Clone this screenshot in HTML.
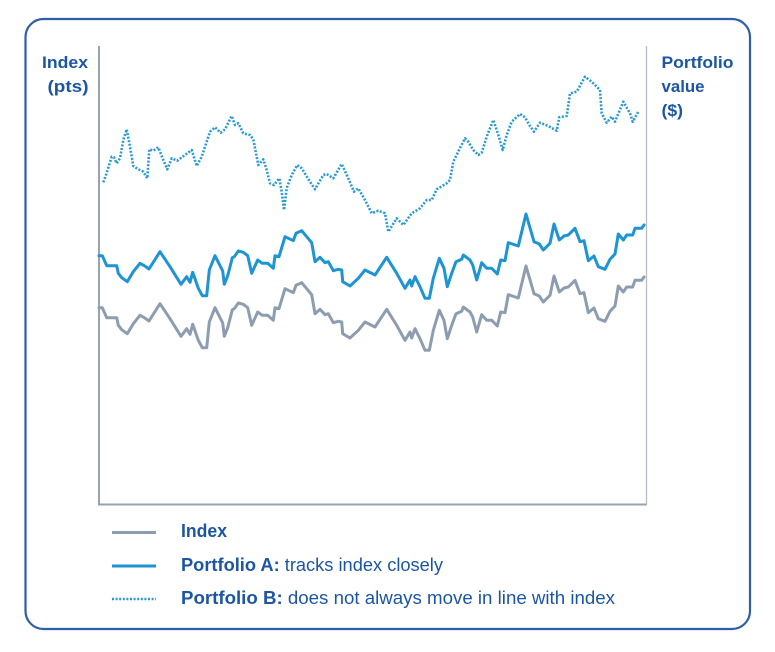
<!DOCTYPE html>
<html>
<head>
<meta charset="utf-8">
<style>
  html, body { margin:0; padding:0; background:#ffffff; }
  svg { display:block; }
  text { font-family: "Liberation Sans", "DejaVu Sans", sans-serif; fill:#1c56a3; }
</style>
</head>
<body>
<svg width="775" height="652" viewBox="0 0 775 652" xmlns="http://www.w3.org/2000/svg">
  <rect x="0" y="0" width="775" height="652" fill="#ffffff"/>
  <!-- frame -->
  <rect x="25.5" y="19" width="724.5" height="610" rx="18" ry="18" fill="none" stroke="#2d5fa6" stroke-width="2.2"/>

  <!-- axes -->
  <line x1="99" y1="46" x2="99" y2="505" stroke="#97a3b3" stroke-width="2"/>
  <line x1="98" y1="504.5" x2="647" y2="504.5" stroke="#97a3b3" stroke-width="2"/>
  <line x1="646.5" y1="46" x2="646.5" y2="505" stroke="#b5bcc6" stroke-width="1.3"/>

  <!-- axis labels -->
  <text x="42" y="68" font-size="17" font-weight="bold" textLength="46" lengthAdjust="spacingAndGlyphs">Index</text>
  <text x="47.5" y="92" font-size="17" font-weight="bold" textLength="41" lengthAdjust="spacingAndGlyphs">(pts)</text>
  <text x="661.5" y="68" font-size="17" font-weight="bold" textLength="72" lengthAdjust="spacingAndGlyphs">Portfolio</text>
  <text x="661.5" y="92" font-size="17" font-weight="bold" textLength="43" lengthAdjust="spacingAndGlyphs">value</text>
  <text x="661.5" y="116" font-size="17" font-weight="bold" textLength="21.5" lengthAdjust="spacingAndGlyphs">($)</text>

  <!-- Index (gray) = Portfolio A shifted +52 -->
  <g transform="translate(0,52)">
    <polyline fill="none" stroke="#8d9db0" stroke-width="3" stroke-linejoin="round" stroke-linecap="round" points="99,255.7 102.3,255.7 106.7,265.7 116.7,265.7 118.3,273.3 121.7,277.7 127.3,281.7 133.3,271.7 140,263.3 144.3,265.7 149,269 160,251.7 170,266.7 181,284.3 186.7,276.7 190,282.3 192.7,272.3 198.3,288.3 202.3,295.7 206.7,295.7 209.3,270 215,255.7 222.7,271 224.3,284.3 227.7,275.7 232.3,257.7 234.3,256.7 238.3,251 243.3,252.3 247.7,255.7 251.7,273.3 257.7,260 262.3,263.3 267.7,263.3 273.3,268.3 275,255.7 279,256.7 285,236.7 293.3,240.7 296,233.3 301.7,230.7 306.7,236.7 311.7,242.7 315,261.7 320,257.3 325,262.7 328.3,261.7 333.3,270.7 338.3,269.3 341.7,270 342.7,281.7 350,286 358.3,278.3 365,270 375,275 386.7,257.3 396.7,273.3 405,288.3 410,280 411.7,286 415,276.7 420,286.7 425,298.3 429.3,298.3 433.3,278.3 439.3,258.3 444,268.3 447.3,286.7 451.7,273.3 456,261.7 461.7,259.3 463.3,255 470,260 472.7,265 476.7,280 481.7,262.7 486.7,268.3 491.7,268.3 497.3,274 500.7,260 505,260.7 508.3,242.7 518.3,246 526,214 534,241.7 539.3,244 543.3,250 550,243.3 554,224 559.3,240 564,236 568.3,235 575,228.3 580,241.7 584,240.7 588.3,260.7 594,256 598.3,266.7 605,269.3 610,259.3 615,254 618.3,234 623.3,240 626.7,235 632.7,235 635,228.3 641.7,228.3 644,225"/>
  </g>

  <!-- Portfolio A (blue solid) -->
  <polyline fill="none" stroke="#1e94d2" stroke-width="3" stroke-linejoin="round" stroke-linecap="round" points="99,255.7 102.3,255.7 106.7,265.7 116.7,265.7 118.3,273.3 121.7,277.7 127.3,281.7 133.3,271.7 140,263.3 144.3,265.7 149,269 160,251.7 170,266.7 181,284.3 186.7,276.7 190,282.3 192.7,272.3 198.3,288.3 202.3,295.7 206.7,295.7 209.3,270 215,255.7 222.7,271 224.3,284.3 227.7,275.7 232.3,257.7 234.3,256.7 238.3,251 243.3,252.3 247.7,255.7 251.7,273.3 257.7,260 262.3,263.3 267.7,263.3 273.3,268.3 275,255.7 279,256.7 285,236.7 293.3,240.7 296,233.3 301.7,230.7 306.7,236.7 311.7,242.7 315,261.7 320,257.3 325,262.7 328.3,261.7 333.3,270.7 338.3,269.3 341.7,270 342.7,281.7 350,286 358.3,278.3 365,270 375,275 386.7,257.3 396.7,273.3 405,288.3 410,280 411.7,286 415,276.7 420,286.7 425,298.3 429.3,298.3 433.3,278.3 439.3,258.3 444,268.3 447.3,286.7 451.7,273.3 456,261.7 461.7,259.3 463.3,255 470,260 472.7,265 476.7,280 481.7,262.7 486.7,268.3 491.7,268.3 497.3,274 500.7,260 505,260.7 508.3,242.7 518.3,246 526,214 534,241.7 539.3,244 543.3,250 550,243.3 554,224 559.3,240 564,236 568.3,235 575,228.3 580,241.7 584,240.7 588.3,260.7 594,256 598.3,266.7 605,269.3 610,259.3 615,254 618.3,234 623.3,240 626.7,235 632.7,235 635,228.3 641.7,228.3 644,225"/>

  <!-- Portfolio B (dotted) -->
  <polyline fill="none" stroke="#2a9ad0" stroke-width="2.6" stroke-dasharray="2 1.6" stroke-linejoin="round" points="103.3,182.3 106.7,173 111.7,156.7 114,157.3 116.7,163.3 120,158.3 123.3,140 126.7,129.3 130,146.7 133.3,166 138.3,169.3 143.3,171.7 147.3,178.3 149.3,149.3 153.3,150.7 158.3,147.3 163.3,160 167.3,169.3 171.7,158.3 177.3,160.7 185,155 191.7,150 196.7,166 201.7,156.7 210,131.7 215,127.3 220.7,132.7 225,129.3 231.7,116 235,125 238.3,123.3 243.3,133.3 250,135 253.3,139.3 258.3,165 263.3,159.3 266.7,170 270,183.3 274,185 279.3,178.3 281.7,191.7 284,210 286.7,188 291.7,175 297.3,165 301.7,168.3 310,181.7 315,189.3 323.3,175 326.7,174 333.3,178.3 341.7,164 348.3,178.3 354,191.7 358.3,188.3 365,200 371.7,213.3 378.3,210.7 385,213.3 388.3,231.7 396.7,218.3 403.3,225 411.7,213.3 420,208.3 426.7,200 431.7,200 436.7,189.3 446.7,183.3 450,180 453.3,161.7 460,148 465,138.3 468.3,141.7 473.3,150 478.3,155 481.7,152.7 486.7,136.7 493.3,120 498.3,135 502.7,150 506.7,135 511.7,121.7 520,114 525,117.3 529.3,125 534,131.7 540,122.7 548.3,126 556.7,130.7 559.3,117.3 566.7,116 570,93.3 576.7,91.7 585,76.7 591.7,81.7 600,90 601.7,113.3 606.7,122.7 611.7,116.7 615,121.7 623.3,101.7 630,113.3 632.7,121.7 638.3,111.7"/>

  <!-- legend -->
  <line x1="112" y1="532.5" x2="156" y2="532.5" stroke="#8d9db0" stroke-width="3"/>
  <line x1="112" y1="566" x2="156" y2="566" stroke="#1e94d2" stroke-width="3"/>
  <line x1="112" y1="599" x2="156" y2="599" stroke="#2a9ad0" stroke-width="2.6" stroke-dasharray="2 1.6"/>

  <text x="181" y="537" font-size="18" font-weight="bold" textLength="46" lengthAdjust="spacingAndGlyphs">Index</text>
  <text x="181" y="571" font-size="18" textLength="262" lengthAdjust="spacingAndGlyphs"><tspan font-weight="bold">Portfolio A:</tspan> tracks index closely</text>
  <text x="181" y="604" font-size="18" textLength="434" lengthAdjust="spacingAndGlyphs"><tspan font-weight="bold">Portfolio B:</tspan> does not always move in line with index</text>
</svg>
</body>
</html>
